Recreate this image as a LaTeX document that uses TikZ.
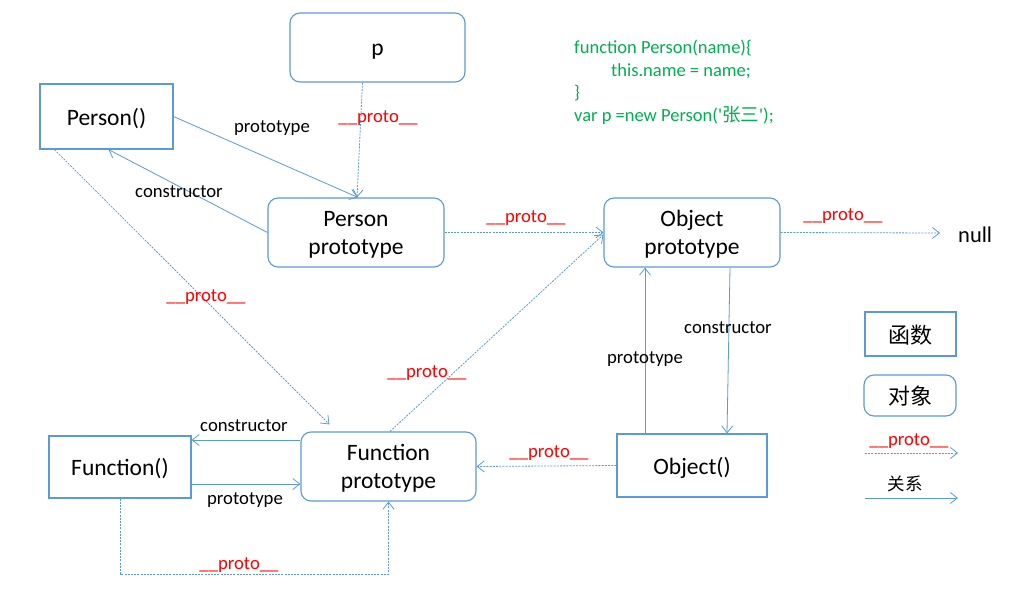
\documentclass[tikz,border=0pt]{standalone}
\usepackage{fontspec}
\setmainfont{Carlito}
\newfontfamily\cjk{Noto Sans CJK SC}
\usetikzlibrary{arrows.meta}
\definecolor{lineblue}{RGB}{91,155,213}
\definecolor{codegreen}{RGB}{0,176,80}
\begin{document}
\begin{tikzpicture}[x=1pt,y=-1pt,
  basebox/.style={draw=lineblue,line width=1.1pt,inner sep=0pt,align=center,text depth=0pt,font=\fontsize{23.5}{28}\selectfont},
  funbox/.style={basebox},
  objbox/.style={basebox,rounded corners=10pt},
  rel/.style={draw=lineblue,line width=0.8pt,-{Straight Barb[length=7pt,width=11pt]}},
  proto/.style={rel,dash pattern=on 2pt off 1.2pt},
  lbl/.style={font=\fontsize{18.7}{20}\selectfont,inner sep=0pt},
  plbl/.style={lbl,text=red},
  code/.style={font=\fontsize{18.5}{20}\selectfont,text=codegreen,inner sep=0pt,anchor=base west}]
\fill[white] (0,0) rectangle (1034,615);
\useasboundingbox (0,0) rectangle (1034,615);

% nodes
\node[objbox,minimum width=175pt,minimum height=69pt,text height=16pt] (p) at (377.5,47.5) {p};
\node[funbox,minimum width=133pt,minimum height=65pt] (P) at (106.5,116.5) {Person()};
\node[objbox,minimum width=176pt,minimum height=69pt] (pp) at (356,232.5) {Person\\prototype};
\node[objbox,minimum width=176pt,minimum height=69pt] (op) at (692,232.5) {Object\\prototype};
\node[funbox,minimum width=142pt,minimum height=62pt] (F) at (120,467) {Function()};
\node[objbox,minimum width=175pt,minimum height=69pt] (fp) at (388.5,466.5) {Function\\prototype};
\node[funbox,minimum width=150pt,minimum height=63pt] (O) at (692,465.5) {Object()};
\node[font=\fontsize{22.5}{26}\selectfont,inner sep=0pt,anchor=west] (null) at (958,235) {null};
\coordinate (nullin) at (940,233);

% code
\node[code] (c1) at (574,54) {function Person(name)\{};
\node[code] (c2) at (611,77) {this.name = name;};
\node[code] (c3) at (574,99) {\}};
\node[code] (c4) at (574,122) {var p =new Person(\textquotesingle{\cjk 张三}\textquotesingle);};

% connectors
\draw[rel] (P.east) -- ([xshift=2pt]pp.north);
\node[lbl] (l1) at (272,128.5) {prototype};
\draw[rel] (pp.west) -- ([xshift=2pt]P.south);
\node[lbl] (l2) at (179,191.5) {constructor};
\draw[proto] ([xshift=-15pt]p.south) -- ([xshift=1pt]pp.north);
\node[plbl] (l3) at (378,118) {\_\_proto\_\_};
\draw[proto] ([xshift=15pt]P.south west) -- ([xshift=29pt,yshift=7pt]fp.north west);
\node[plbl] (l4) at (206,297) {\_\_proto\_\_};
\draw[proto] (pp.east) -- (op.west);
\node[plbl] (l5) at (526,218) {\_\_proto\_\_};
\draw[proto] (op.east) -- (nullin);
\node[plbl] (l6) at (843,216) {\_\_proto\_\_};
\draw[proto] ([xshift=1.5pt]fp.north) -- ([yshift=-2pt]op.west);
\node[plbl] (l7) at (427,373) {\_\_proto\_\_};
\draw[rel] ([xshift=38pt]op.south) -- ([xshift=35pt]O.north);
\node[lbl] (l8) at (728,327.5) {constructor};
\draw[rel] ([xshift=-47pt]O.north) -- ([xshift=-47pt]op.south);
\node[lbl] (l9) at (645,359.5) {prototype};
\draw[proto] (O.west) -- (fp.east);
\node[plbl] (l10) at (549,453) {\_\_proto\_\_};
\draw[rel] ([yshift=26.5pt]fp.west) -- ([yshift=27pt]F.east);
\node[lbl] (l11) at (244,426) {constructor};
\draw[rel] ([yshift=-17pt]F.east) -- ([yshift=-17.5pt]fp.west);
\node[lbl] (l12) at (245,500.5) {prototype};
\draw[proto] (F.south) -- (120,574) -- (388.5,574) -- (fp.south);
\node[plbl] (l13) at (239,565) {\_\_proto\_\_};

% legend
\node[funbox,minimum width=91pt,minimum height=44pt,font=\cjk\fontsize{22}{24}\selectfont] (lf) at (910.5,334) {函数};
\node[objbox,minimum width=92pt,minimum height=41pt,font=\cjk\fontsize{22}{24}\selectfont] (lo) at (910,395.5) {对象};
\coordinate (la1) at (865,453);
\coordinate (la2) at (958,453);
\draw[proto] (la1) -- (la2);
\node[plbl] (ll1) at (909,441) {\_\_proto\_\_};
\coordinate (lb1) at (865,498);
\coordinate (lb2) at (958,498);
\draw[rel] (lb1) -- (lb2);
\node[lbl,font=\cjk\fontsize{17.5}{20}\selectfont] (ll2) at (905,484) {关系};
\end{tikzpicture}
\end{document}
